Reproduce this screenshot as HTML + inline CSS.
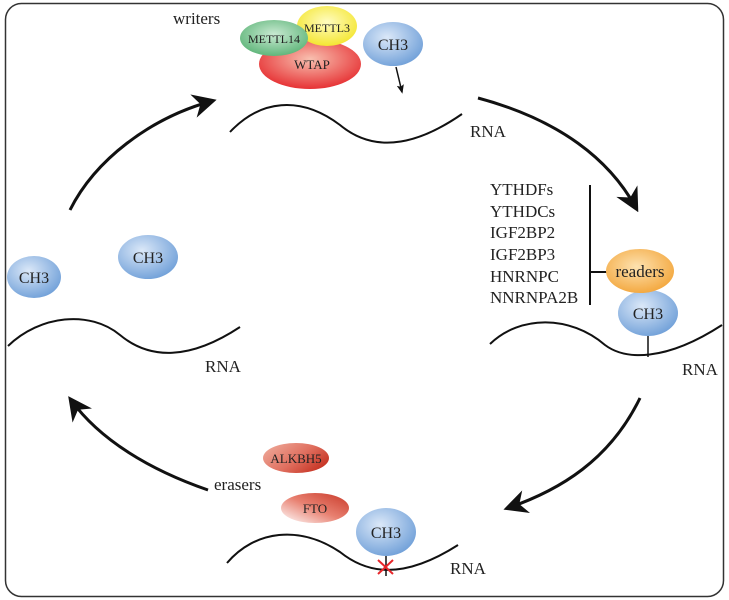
<!DOCTYPE html>
<html><head><style>
body{margin:0;background:#fff}
svg{display:block}
text{font-family:"Liberation Serif",serif;fill:#222}
</style></head><body>
<svg width="729" height="600" viewBox="0 0 729 600" xmlns="http://www.w3.org/2000/svg">
<defs>
<radialGradient id="blue" cx="40%" cy="35%" r="70%"><stop offset="0" stop-color="#dbe8f8"/><stop offset="1" stop-color="#6f9fd8"/></radialGradient>
<radialGradient id="orange" cx="45%" cy="40%" r="70%"><stop offset="0" stop-color="#fde2b0"/><stop offset="1" stop-color="#f2a030"/></radialGradient>
<radialGradient id="red" cx="50%" cy="40%" r="65%"><stop offset="0" stop-color="#f8c0b0"/><stop offset="1" stop-color="#e5262a"/></radialGradient>
<radialGradient id="green" cx="50%" cy="40%" r="70%"><stop offset="0" stop-color="#c9ead2"/><stop offset="1" stop-color="#4fad6c"/></radialGradient>
<radialGradient id="yellow" cx="50%" cy="40%" r="70%"><stop offset="0" stop-color="#fffcc0"/><stop offset="1" stop-color="#f2e21a"/></radialGradient>
<linearGradient id="er" x1="0" y1="0" x2="1" y2="0.6"><stop offset="0" stop-color="#f0b0a0"/><stop offset="0.6" stop-color="#e07060"/><stop offset="1" stop-color="#c83828"/></linearGradient>
<linearGradient id="er2" x1="1" y1="0" x2="0" y2="1"><stop offset="0" stop-color="#c83828"/><stop offset="0.5" stop-color="#e88070"/><stop offset="1" stop-color="#fff"/></linearGradient>
<marker id="ah" viewBox="0 0 10 10" refX="8" refY="5" markerWidth="8" markerHeight="8" orient="auto"><path d="M0,0 L10,5 L0,10 L3,5 Z" fill="#111"/></marker>
<marker id="sah" viewBox="0 0 10 10" refX="8" refY="5" markerWidth="6" markerHeight="6" orient="auto"><path d="M0,1 L10,5 L0,9 L2,5 Z" fill="#111"/></marker>
</defs>
<rect x="5.5" y="3.5" width="718" height="593" rx="16" fill="none" stroke="#333" stroke-width="1.5"/>

<text x="173" y="24" font-size="17">writers</text>
<ellipse cx="310" cy="64" rx="51" ry="25" fill="url(#red)"/>
<ellipse cx="327" cy="26" rx="30" ry="20" fill="url(#yellow)"/>
<text x="327" y="32" font-size="12" text-anchor="middle">METTL3</text>
<ellipse cx="274" cy="38" rx="34" ry="18" fill="url(#green)"/>
<text x="274" y="43" font-size="12" text-anchor="middle">METTL14</text>
<text x="312" y="69" font-size="13" text-anchor="middle">WTAP</text>
<ellipse cx="393" cy="44" rx="30" ry="22" fill="url(#blue)"/>
<text x="393" y="50" font-size="16" text-anchor="middle">CH3</text>
<line x1="396" y1="67" x2="402" y2="92" stroke="#111" stroke-width="1.5" marker-end="url(#sah)"/>
<path d="M230,132 C260,100 300,95 340,125 C370,150 410,150 462,114" fill="none" stroke="#111" stroke-width="2"/>
<text x="470" y="137" font-size="17">RNA</text>

<path d="M70,210 C95,160 150,118 212,101" fill="none" stroke="#111" stroke-width="3" marker-end="url(#ah)"/>
<path d="M478,98 C560,120 610,160 636,208" fill="none" stroke="#111" stroke-width="3" marker-end="url(#ah)"/>
<path d="M640,398 C610,460 560,490 508,508" fill="none" stroke="#111" stroke-width="3" marker-end="url(#ah)"/>
<path d="M208,490 C150,470 100,440 71,400" fill="none" stroke="#111" stroke-width="3" marker-end="url(#ah)"/>

<g font-size="17">
<text x="490" y="195">YTHDFs</text>
<text x="490" y="217">YTHDCs</text>
<text x="490" y="238">IGF2BP2</text>
<text x="490" y="260">IGF2BP3</text>
<text x="490" y="282">HNRNPC</text>
<text x="490" y="303">NNRNPA2B</text>
</g>
<line x1="590" y1="185" x2="590" y2="305" stroke="#111" stroke-width="2"/>
<line x1="590" y1="272" x2="607" y2="272" stroke="#111" stroke-width="2"/>
<ellipse cx="648" cy="313" rx="30" ry="23" fill="url(#blue)"/>
<text x="648" y="319" font-size="16" text-anchor="middle">CH3</text>
<ellipse cx="640" cy="271" rx="34" ry="22" fill="url(#orange)"/>
<text x="640" y="277" font-size="17" text-anchor="middle">readers</text>
<path d="M490,344 C520,315 570,315 605,345 C625,360 665,362 722,325" fill="none" stroke="#111" stroke-width="2"/>
<line x1="648" y1="336" x2="648" y2="357" stroke="#111" stroke-width="1.5"/>
<text x="682" y="375" font-size="17">RNA</text>

<ellipse cx="34" cy="277" rx="27" ry="21" fill="url(#blue)"/>
<text x="34" y="283" font-size="16" text-anchor="middle">CH3</text>
<ellipse cx="148" cy="257" rx="30" ry="22" fill="url(#blue)"/>
<text x="148" y="263" font-size="16" text-anchor="middle">CH3</text>
<path d="M8,346 C40,315 90,310 120,335 C150,360 190,360 240,327" fill="none" stroke="#111" stroke-width="2"/>
<text x="205" y="372" font-size="17">RNA</text>

<ellipse cx="296" cy="458" rx="33" ry="15" fill="url(#er)"/>
<text x="296" y="463" font-size="13" text-anchor="middle" fill="#333">ALKBH5</text>
<text x="214" y="490" font-size="17">erasers</text>
<ellipse cx="315" cy="508" rx="34" ry="15" fill="url(#er2)"/>
<text x="315" y="513" font-size="13" text-anchor="middle" fill="#333">FTO</text>
<ellipse cx="386" cy="532" rx="30" ry="24" fill="url(#blue)"/>
<text x="386" y="538" font-size="16" text-anchor="middle">CH3</text>
<path d="M227,563 C255,530 300,525 340,552 C365,572 400,582 458,545" fill="none" stroke="#111" stroke-width="2"/>
<line x1="386" y1="556" x2="386" y2="576" stroke="#111" stroke-width="1.5"/>
<path d="M378,560 L393,574 M393,560 L378,574" stroke="#e8262a" stroke-width="2"/>
<text x="450" y="574" font-size="17">RNA</text>
</svg>
</body></html>
